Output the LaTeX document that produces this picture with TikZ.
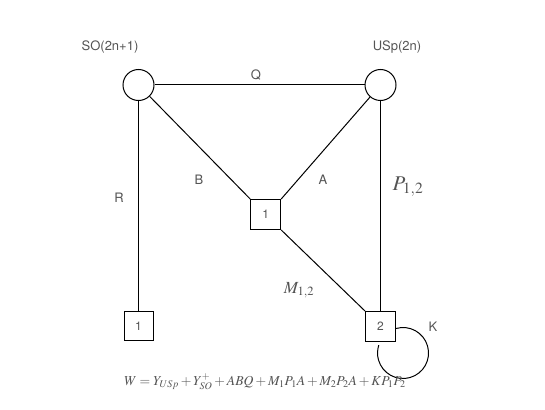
\documentclass[tikz,border=0pt]{standalone}
\usepackage{mathptmx}
\usepackage{fontspec}
\newfontfamily\hv{TeX Gyre Heros}
\definecolor{labelgray}{gray}{0.33}
\begin{document}
\begin{tikzpicture}[x=1pt,y=-1pt,
  grp/.style={draw,circle,line width=1pt,minimum size=31pt,inner sep=0pt},
  flv/.style={draw,rectangle,line width=1pt,minimum size=30pt,inner sep=0pt,fill=white,
    font=\hv\fontsize{12}{12}\selectfont,text=labelgray},
  edge/.style={line width=1pt},
  lab/.style={font=\hv\fontsize{13}{13}\selectfont,text=labelgray,inner sep=0pt},
  mlab/.style={text=labelgray,inner sep=0pt}]
\useasboundingbox (0,0) rectangle (545,409);
\node[grp] (so) at (138.5,85) {};
\node[grp] (usp) at (380.5,85) {};
\node[flv] (s1) at (265.7,214.5) {1};
\node[flv,minimum size=29pt] (f1) at (138.5,326) {1};
\node[flv] (s2) at (380.5,326.5) {2};
\draw[edge] (so) -- (usp);
\draw[edge] (so) -- (s1.north west);
\draw[edge] (usp) -- (s1.north east);
\draw[edge] (s1.south east) -- (s2.north west);
\draw[edge] (so) -- (f1);
\draw[edge] (usp) -- (s2);
\draw[edge] ([yshift=-2pt]s2.east) arc[start angle=-106,end angle=198,radius=25.5];
\node[lab] (lq) at (256,75) {Q};
\node[lab] (lb) at (199,180) {B};
\node[lab] (la) at (323,180) {A};
\node[lab] (lr) at (119,198) {R};
\node[lab] (lk) at (433,327) {K};
\node[lab] (lso) at (110,47) {SO(2n+1)};
\node[lab] (lusp) at (397,47) {USp(2n)};
\node[mlab,font=\fontsize{21}{21}\selectfont] (lp) at (408,187) {$P_{1,2}$};
\node[mlab,font=\fontsize{17}{17}\selectfont] (lm) at (299,290) {$M_{1,2}$};
\node[mlab,font=\fontsize{13.7}{14}\selectfont] (lw) at (265,382) {$W=Y_{USp}+Y^{+}_{SO}+ABQ+M_1P_1A+M_2P_2A+KP_1P_2$};
\end{tikzpicture}
\end{document}
